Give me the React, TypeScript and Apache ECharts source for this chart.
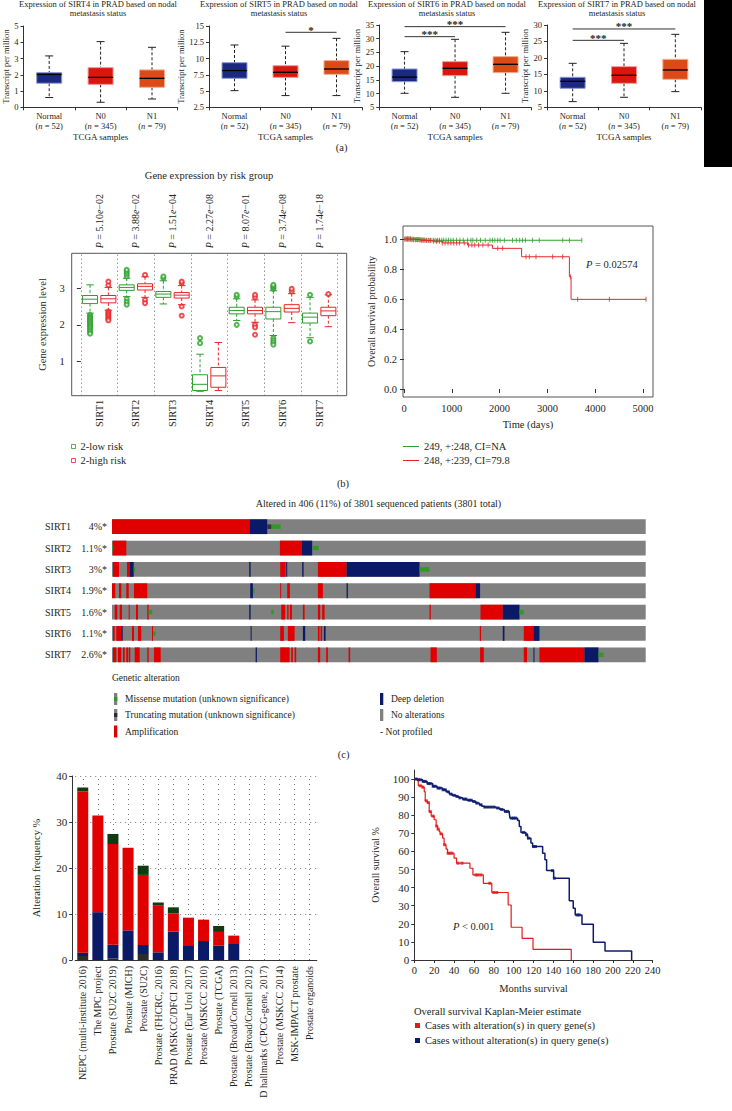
import React, { useEffect, useRef } from "react";
import * as echarts from "echarts";

const FONT = "'Liberation Serif', 'Times New Roman', serif";
const INK = "#231f20";

// ---------------- (a) nodal metastasis box plots ----------------
const aGroups = ["Normal", "N0", "N1"];
const aCounts = [52, 345, 79];
const aGenes = ["SIRT4", "SIRT5", "SIRT6", "SIRT7"];
const aYMin = [0, 2.5, 5, 5];
const aYMax = [5, 15, 35, 30];
const aYStep = [1, 2.5, 5, 5];
// [lower whisker, Q1, median, Q3, upper whisker]
const sirt4Box = [[0.6, 1.48, 2.02, 2.13, 3.16], [0.31, 1.41, 1.84, 2.44, 4.04], [0.51, 1.23, 1.78, 2.3, 3.69]];
const sirt5Box = [[5.06, 6.96, 8.15, 9.36, 12.08], [4.3, 7.1, 7.88, 8.9, 11.9], [4.3, 7.57, 8.39, 9.67, 13.1]];
const sirt6Box = [[10.1, 14.35, 16.0, 18.97, 25.28], [8.64, 16.54, 19.21, 21.64, 29.78], [10.1, 17.63, 20.67, 23.46, 32.33]];
const sirt7Box = [[6.72, 10.77, 12.9, 14.11, 18.36], [8.04, 12.29, 14.72, 17.35, 24.43], [9.76, 13.5, 16.34, 19.57, 27.17]];
// [from group, to group, bracket height, stars]
const sirt4Sig: any[] = [];
const sirt5Sig = [[1, 2, 14.03, "*"]];
const sirt6Sig = [[0, 1, 30.75, "***"], [0, 2, 34.4, "***"]];
const sirt7Sig = [[0, 1, 25.34, "***"], [0, 2, 28.79, "***"]];

// ---------------- (b) risk groups ----------------
const genes = ["SIRT1", "SIRT2", "SIRT3", "SIRT4", "SIRT5", "SIRT6", "SIRT7"];
const pValues = ["5.10e\u221202", "3.88e\u221202", "1.51e\u221204", "2.27e\u221208", "8.07e\u221201", "3.74e\u221208", "1.74e\u221218"];
const lowRiskBox = [
  [2.32, 2.58, 2.7, 2.8, 3.09], [2.77, 2.94, 3.02, 3.09, 3.27], [2.57, 2.75, 2.84, 2.91, 3.2],
  [0.19, 0.21, 0.38, 0.64, 1.2], [2.12, 2.3, 2.39, 2.48, 2.71], [1.71, 2.16, 2.36, 2.48, 2.93],
  [1.65, 2.05, 2.21, 2.32, 2.75],
];
const highRiskBox = [
  [2.4, 2.6, 2.71, 2.8, 3.02], [2.75, 2.95, 3.05, 3.12, 3.31], [2.55, 2.73, 2.81, 2.88, 3.07],
  [0.21, 0.3, 0.61, 0.84, 1.52], [2.07, 2.3, 2.39, 2.48, 2.68], [2.06, 2.35, 2.45, 2.55, 2.85],
  [1.95, 2.25, 2.38, 2.48, 2.82],
];
const lowRiskOutliers = [
  [2.27, 2.23, 2.19, 2.15, 2.11, 2.07, 2.03, 1.99, 1.95, 1.91, 1.86, 1.81, 1.76],
  [3.32, 3.39, 3.45, 3.5, 2.7, 2.62, 2.55],
  [3.27, 3.32],
  [1.5, 1.64],
  [2.77, 2.82, 2.0],
  [2.98, 3.02, 3.05, 3.09, 1.64, 1.58, 1.52, 1.46],
  [2.82, 1.55],
];
const highRiskOutliers = [
  [3.08, 3.18, 2.36, 2.32, 2.28, 2.24, 2.2, 2.16, 2.12],
  [3.36, 2.68, 2.59],
  [3.14, 3.18, 2.5, 2.25],
  [],
  [2.75, 2.82, 2.0, 1.93, 1.73],
  [2.91, 2.98],
  [2.84],
];
// Kaplan-Meier by risk group (days, survival)
const kmLowT = [0, 250, 450, 3720];
const kmLowS = [1.0, 0.997, 0.992, 0.992];
const kmHighT = [0, 150, 350, 600, 800, 1330, 1850, 2460, 3460, 3495, 5063];
const kmHighS = [1.0, 0.996, 0.99, 0.985, 0.974, 0.96, 0.938, 0.882, 0.749, 0.598, 0.598];
const kmLowCensor = [40, 70, 100, 130, 170, 210, 260, 300, 340, 380, 420, 470, 520, 560, 610, 650, 700, 740, 790, 830, 880, 930, 980, 1030, 1100, 1170, 1240, 1330, 1400, 1440, 1520, 1600, 1700, 1800, 1850, 1900, 1960, 2010, 2100, 2270, 2350, 2420, 2480, 2540, 2690, 2830, 3320, 3460, 3720];
const kmHighCensor = [15, 45, 75, 105, 135, 165, 200, 240, 280, 320, 360, 400, 440, 480, 520, 560, 620, 680, 740, 800, 860, 920, 980, 1040, 1100, 1160, 1260, 1350, 1420, 1480, 1560, 1650, 1760, 1960, 2064, 2552, 2622, 2761, 3110, 3319, 3480, 3633, 4296, 5063];

// ---------------- (c) oncoprint ----------------
const oncoGenes = ["SIRT1", "SIRT2", "SIRT3", "SIRT4", "SIRT5", "SIRT6", "SIRT7"];
const oncoPct = ["4%*", "1.1%*", "3%*", "1.9%*", "1.6%*", "1.1%*", "2.6%*"];
const oncoColumns = 534;
// [row, first column, last column]
const ampSegs = [
  [0, 0, 137.7],
  [1, 0.7, 14.3], [1, 168, 190],
  [2, 1, 7], [2, 15, 17.7], [2, 168.3, 173.7], [2, 206, 234.7],
  [3, 0, 3.3], [3, 7, 9.3], [3, 14.3, 16.7], [3, 22, 35.3], [3, 168.3, 169.3], [3, 175.3, 178], [3, 206, 211], [3, 317.7, 363.7],
  [4, 2.7, 5.3], [4, 7.7, 10], [4, 16.7, 17.7], [4, 24, 26], [4, 35.3, 36.7], [4, 169.3, 173.3], [4, 175.3, 176.7], [4, 178, 180], [4, 191, 192.7], [4, 206, 208.3], [4, 210.3, 212.7], [4, 317.7, 319], [4, 368.7, 391],
  [5, 1, 2.7], [5, 4.3, 9.3], [5, 20, 22], [5, 26, 29.3], [5, 40, 41], [5, 168.3, 172], [5, 176, 182.7], [5, 206, 207.7], [5, 208.7, 210.3], [5, 368, 369.3], [5, 412, 421.7],
  [6, 1, 4.3], [6, 6, 9.3], [6, 11, 12.7], [6, 14.3, 16], [6, 16.7, 18.3], [6, 22.7, 27.7], [6, 35.3, 36.7], [6, 42, 48.7], [6, 168.3, 177.7], [6, 179.3, 181], [6, 182.7, 184.3], [6, 206, 208.3], [6, 214.3, 216], [6, 236.7, 238.3], [6, 318.7, 325], [6, 368.3, 372], [6, 412, 415.3], [6, 427.7, 472.7],
];
const delSegs = [
  [0, 137.7, 155.3],
  [1, 190, 200.3],
  [2, 17.7, 21.7], [2, 137.3, 138.7], [2, 174.3, 175.3], [2, 190.3, 191.7], [2, 234.7, 307.7],
  [3, 138.3, 141], [3, 234.7, 236], [3, 363.7, 368.3],
  [4, 137.3, 138.7], [4, 391, 407.7],
  [5, 9.3, 10.7], [5, 138.7, 139.7], [5, 191, 193.3], [5, 212, 213.7], [5, 391, 392.7], [5, 421.7, 427.7],
  [6, 143.7, 145], [6, 421.7, 422.7], [6, 472.7, 486.7],
];
const missenseSegs = [
  [0, 159.3, 168.7], [1, 0, 1.3], [1, 201, 206.7], [2, 21.7, 23.3], [2, 307.7, 317.7], [3, 141, 142.7],
  [4, 36.7, 40.3], [4, 159.3, 161.7], [4, 407.7, 412], [5, 41, 43.7], [6, 486.7, 492],
];
const truncSegs = [[0, 155.3, 159.3]];

// ---------------- (d) alteration frequency & survival ----------------
const studies = [
  "NEPC (multi-institute 2016)", "The MPC project", "Prostate (SU2C 2019)", "Prostate (MICH)",
  "Prostate (SU2C)", "Prostate (FHCRC, 2016)", "PRAD (MSKCC/DFCI 2018)", "Prostate (Eur Urol 2017)",
  "Prostate (MSKCC 2010)", "Prostate (TCGA)", "Prostate (Broad/Cornell 2013)", "Prostate (Broad/Cornell 2012)",
  "D hallmarks (CPCG-gene, 2017)", "Prostate (MSKCC 2014)", "MSK-IMPACT prostate", "Prostate organoids",
];
const truncPct = [0.87, 0, 0.36, 0, 1.3, 0, 0, 0, 0, 0, 0, 0, 0, 0, 0, 0];
const deletionPct = [0.73, 10.4, 2.94, 6.45, 1.96, 1.67, 6.16, 3.04, 4.13, 3.1, 3.48, 0, 0, 0, 0, 0];
const amplificationPct = [35.1, 21.0, 21.9, 17.95, 15.24, 10.13, 3.94, 6.16, 4.64, 3.0, 1.82, 0, 0, 0, 0, 0];
const multiplePct = [0.8, 0, 2.2, 0, 2.0, 0.7, 1.35, 0, 0, 1.3, 0, 0, 0, 0, 0, 0];

const altT = [0, 4, 8, 10, 11, 13, 15, 17, 20, 22, 23.5, 25, 26, 28.5, 30, 32, 33.5, 40, 42.5, 56, 59, 69.5, 78, 94.5, 97.5, 108.5, 119.5, 158];
const altS = [100, 96.3, 95.5, 93, 88, 87, 82, 79.5, 77.5, 74, 72.3, 71, 69.7, 67.3, 63.7, 61.3, 59, 56.3, 53.5, 50.7, 47, 42.4, 37.3, 30.4, 18.1, 12, 5.9, 0];
const unaltT = [0, 3, 8.4, 13, 18.5, 23, 28.5, 32, 35.2, 38, 41.9, 45, 48.7, 53, 58.7, 62, 65.4, 68, 70.5, 82.2, 86, 90.6, 95.6, 96.3, 104, 105.7, 107.4, 112.4, 114.1, 117.4, 119.1, 129.2, 131.5, 133.2, 140.3, 156, 160, 162, 168.8, 180.2, 192, 218.8];
const unaltS = [100, 99.6, 98.7, 97.5, 96, 95, 94.1, 93, 91.7, 91, 90.4, 89.6, 88.9, 88.3, 87.6, 86.7, 85.8, 85, 84.5, 84, 83.2, 82.1, 81.2, 78.4, 77.1, 73.8, 70.5, 69.2, 67.3, 64.6, 62.7, 59, 55.4, 49.4, 45.2, 32.8, 28.6, 24.9, 19.7, 9.8, 5.0, 0];
const altCensor = [6, 8.5, 12, 14, 16, 19, 22.5, 24, 27, 30.5, 34, 36, 38, 44, 48, 62, 64, 67, 76, 80, 83];
const unaltCensor = [2, 4, 6, 9, 11, 14, 16, 19, 21, 24, 26, 29, 31, 34, 37, 40, 43, 46, 50, 52, 55, 57, 60, 63, 67, 71, 74, 77, 80, 84, 88, 92, 94, 98, 100, 102, 110, 113, 115, 120, 122, 139, 141, 164, 166];

const survAt = (T: number[], S: number[], t: number) => {
  let s = S[0];
  for (let i = 0; i < T.length; i++) if (T[i] <= t) s = S[i];
  return s;
};

const tstyle = (size: number, extra: any = {}) => ({ fontSize: size, fontFamily: FONT, color: INK, ...extra });

const gText = (x: number, y: number, text: string, size: number, align = "left", rich?: any, extra: any = {}) => ({
  type: "text",
  x,
  y,
  silent: true,
  style: {
    text,
    fontSize: size,
    fontFamily: FONT,
    fill: INK,
    align,
    textAlign: align,
    verticalAlign: "middle",
    textVerticalAlign: "middle",
    rich,
    ...extra,
  },
});

const italicRich = (size: number) => ({ i: { fontStyle: "italic", fontSize: size, fontFamily: FONT, color: INK, fill: INK } });

function buildOption() {
  const aFill = ["#1b2a80", "#d9160f", "#db4a17"];
  const aStroke = ["#8e9ad8", "#f39a92", "#f3ad8c"];
  const aBoxes = [sirt4Box, sirt5Box, sirt6Box, sirt7Box];
  const aSigs = [sirt4Sig, sirt5Sig, sirt6Sig, sirt7Sig];
  const aGrid = [
    { left: 22.7, top: 26, width: 155, height: 81.3 },
    { left: 209, top: 26, width: 153, height: 81.3 },
    { left: 379.3, top: 25, width: 151.5, height: 82.3 },
    { left: 547, top: 25, width: 154, height: 82.3 },
  ];
  const aNameGap = [13.5, 16.5, 17, 14.5];

  const aBoxRender = (params: any, api: any) => {
    const i = api.value(0);
    const lo = api.coord([i, api.value(1)]);
    const q1 = api.coord([i, api.value(2)]);
    const md = api.coord([i, api.value(3)]);
    const q3 = api.coord([i, api.value(4)]);
    const hi = api.coord([i, api.value(5)]);
    const cx = lo[0];
    const w = 25;
    const cap = 8;
    const k = params.dataIndex;
    const ws = { stroke: "#222", lineWidth: 1, lineDash: [3, 2] };
    return {
      type: "group",
      children: [
        { type: "line", shape: { x1: cx, y1: hi[1], x2: cx, y2: q3[1] }, style: ws },
        { type: "line", shape: { x1: cx, y1: q1[1], x2: cx, y2: lo[1] }, style: ws },
        { type: "line", shape: { x1: cx - cap / 2, y1: hi[1], x2: cx + cap / 2, y2: hi[1] }, style: { stroke: "#222", lineWidth: 1 } },
        { type: "line", shape: { x1: cx - cap / 2, y1: lo[1], x2: cx + cap / 2, y2: lo[1] }, style: { stroke: "#222", lineWidth: 1 } },
        { type: "rect", shape: { x: cx - w / 2, y: q3[1], width: w, height: q1[1] - q3[1] }, style: { fill: aFill[k], stroke: aStroke[k], lineWidth: 1 } },
        { type: "line", shape: { x1: cx - w / 2, y1: md[1], x2: cx + w / 2, y2: md[1] }, style: { stroke: "#000", lineWidth: 1.3 } },
      ],
    };
  };

  const sigRender = (sig: any[]) => (params: any, api: any) => {
    const p1 = api.coord([api.value(0), api.value(2)]);
    const p2 = api.coord([api.value(1), api.value(2)]);
    return {
      type: "group",
      children: [
        { type: "line", shape: { x1: p1[0], y1: p1[1], x2: p2[0], y2: p2[1] }, style: { stroke: "#333", lineWidth: 1 } },
        {
          type: "text",
          x: (p1[0] + p2[0]) / 2,
          y: p1[1] + 3,
          style: { text: sig[params.dataIndex][3], fontSize: 11, fontWeight: "bold", fontFamily: FONT, fill: INK, align: "center", textAlign: "center", verticalAlign: "bottom", textVerticalAlign: "bottom" },
        },
      ],
    };
  };

  const riskBoxRender = (color: string) => (params: any, api: any) => {
    const x = api.value(0);
    const c = (v: number) => api.coord([x, v]);
    const lo = c(api.value(1));
    const q1 = c(api.value(2));
    const md = c(api.value(3));
    const q3 = c(api.value(4));
    const hi = c(api.value(5));
    const cx = lo[0];
    const w = 15;
    const cap = 7.5;
    const ls = { stroke: color, lineWidth: 1 };
    return {
      type: "group",
      children: [
        { type: "line", shape: { x1: cx, y1: hi[1], x2: cx, y2: q3[1] }, style: { ...ls, lineDash: [3, 2] } },
        { type: "line", shape: { x1: cx, y1: q1[1], x2: cx, y2: lo[1] }, style: { ...ls, lineDash: [3, 2] } },
        { type: "line", shape: { x1: cx - cap / 2, y1: hi[1], x2: cx + cap / 2, y2: hi[1] }, style: ls },
        { type: "line", shape: { x1: cx - cap / 2, y1: lo[1], x2: cx + cap / 2, y2: lo[1] }, style: ls },
        { type: "rect", shape: { x: cx - w / 2, y: q3[1], width: w, height: q1[1] - q3[1] }, style: { fill: "#fff", stroke: color, lineWidth: 1 } },
        { type: "line", shape: { x1: cx - w / 2, y1: md[1], x2: cx + w / 2, y2: md[1] }, style: ls },
      ],
    };
  };

  const oncoRender = (color: string, h: number) => (params: any, api: any) => {
    const s = api.coord([api.value(0), api.value(1)]);
    const e = api.coord([api.value(2), api.value(1)]);
    return {
      type: "rect",
      shape: { x: s[0], y: s[1] - h / 2, width: Math.max(e[0] - s[0], 1), height: h },
      style: { fill: color },
    };
  };

  const GREEN = "#2ca02c";
  const RED = "#e8262a";
  const ONCO_RED = "#e00000";
  const NAVY = "#0b1a66";
  const GRAY = "#808080";
  const MIS_GREEN = "#2f9a22";

  const grid: any[] = [
    ...aGrid,
    { left: 71.7, top: 253.3, width: 275, height: 142.4, show: true, borderColor: "#555", borderWidth: 1 },
    { left: 403, top: 226, width: 250, height: 171, show: true, borderColor: "#555", borderWidth: 1 },
    { left: 112, top: 516, width: 533.7, height: 149.5 },
    { left: 75.2, top: 776, width: 241.6, height: 184 },
    { left: 414.3, top: 770, width: 238.4, height: 190 },
  ];

  const xAxis: any[] = [];
  const yAxis: any[] = [];
  for (let i = 0; i < 4; i++) {
    xAxis.push({
      type: "category",
      gridIndex: i,
      data: aGroups,
      boundaryGap: true,
      axisLine: { lineStyle: { color: "#333", width: 1 } },
      axisTick: { show: true, length: 3, lineStyle: { color: "#333" } },
      axisLabel: {
        interval: 0,
        margin: 4,
        lineHeight: 10,
        ...tstyle(8.5),
        formatter: (v: string, idx: number) => `${v}\n({i|n} = ${aCounts[idx]})`,
        rich: { i: { fontStyle: "italic", fontSize: 8.5, fontFamily: FONT, color: INK, lineHeight: 10 } },
      },
      name: "TCGA samples",
      nameLocation: "middle",
      nameGap: 25,
      nameTextStyle: tstyle(9),
    });
    yAxis.push({
      type: "value",
      gridIndex: i,
      min: aYMin[i],
      max: aYMax[i],
      interval: aYStep[i],
      axisLine: { show: true, lineStyle: { color: "#333", width: 1 } },
      axisTick: { show: true, length: 3, lineStyle: { color: "#333" } },
      splitLine: { show: false },
      axisLabel: { margin: 5, ...tstyle(8.5) },
      name: "Transcript per million",
      nameLocation: "middle",
      nameRotate: 90,
      nameGap: aNameGap[i],
      nameTextStyle: tstyle(8.5),
    });
  }
  // xAxis 4,5 / yAxis 4 : (b) left
  xAxis.push({
    type: "value", gridIndex: 4, min: -0.25, max: 7.25,
    axisLine: { show: false }, axisTick: { show: false }, splitLine: { show: false },
    axisLabel: {
      customValues: genes.map((_, i) => i + 0.5),
      rotate: 90, margin: 4, ...tstyle(10.5),
      formatter: (v: number) => genes[Math.round(v - 0.5)] ?? "",
    },
  });
  xAxis.push({
    type: "value", gridIndex: 4, min: -0.25, max: 7.25, position: "top",
    axisLine: { show: false }, axisTick: { show: false }, splitLine: { show: false },
    axisLabel: {
      customValues: genes.map((_, i) => i + 0.5),
      rotate: -90, margin: 5, ...tstyle(10),
      formatter: (v: number) => {
        const p = pValues[Math.round(v - 0.5)] ?? "";
        const [m, e] = p.split("e");
        return `{i|P} = ${m}{i|e}${e}`;
      },
      rich: italicRich(10),
    },
  });
  yAxis.push({
    type: "value", gridIndex: 4, min: 0.07, max: 3.95,
    axisLine: { show: false }, splitLine: { show: false },
    axisTick: { show: true, length: 4, customValues: [1, 2, 3], lineStyle: { color: "#333" } },
    axisLabel: { customValues: [1, 2, 3], margin: 7, ...tstyle(10.5) },
    name: "Gene expression level", nameLocation: "middle", nameRotate: 90, nameGap: 24, nameTextStyle: tstyle(10.5),
  });
  // xAxis 6 / yAxis 5 : (b) right KM
  xAxis.push({
    type: "value", gridIndex: 5, min: -21, max: 5209,
    axisLine: { show: false }, splitLine: { show: false },
    axisTick: { show: true, length: 4, customValues: [0, 1000, 2000, 3000, 4000, 5000], lineStyle: { color: "#333" } },
    axisLabel: { customValues: [0, 1000, 2000, 3000, 4000, 5000], margin: 6, ...tstyle(10.5), formatter: (v: number) => String(v) },
    name: "Time (days)", nameLocation: "middle", nameGap: 22, nameTextStyle: tstyle(10.5),
  });
  yAxis.push({
    type: "value", gridIndex: 5, min: -0.053, max: 1.087,
    axisLine: { show: false }, splitLine: { show: false },
    axisTick: { show: true, length: 4, customValues: [0, 0.2, 0.4, 0.6, 0.8, 1.0], lineStyle: { color: "#333" } },
    axisLabel: { customValues: [0, 0.2, 0.4, 0.6, 0.8, 1.0], margin: 6, ...tstyle(10.5), formatter: (v: number) => v.toFixed(1) },
    name: "Overall survival probability", nameLocation: "middle", nameRotate: 90, nameGap: 27, nameTextStyle: tstyle(10),
  });
  // xAxis 7 / yAxis 6 : (c) oncoprint
  xAxis.push({ type: "value", gridIndex: 6, min: 0, max: oncoColumns, show: false });
  yAxis.push({
    type: "category", gridIndex: 6, data: oncoGenes, inverse: true,
    axisLine: { show: false }, axisTick: { show: false },
    axisLabel: {
      margin: 5, ...tstyle(10),
      formatter: (v: string, idx: number) => `{g|${v}}{p|${oncoPct[idx]}}`,
      rich: {
        g: { width: 30, align: "left", fontSize: 10, fontFamily: FONT, color: INK },
        p: { width: 32, align: "right", fontSize: 10, fontFamily: FONT, color: INK },
      },
    },
  });
  // xAxis 8 / yAxis 7 : (d) bars
  xAxis.push({
    type: "category", gridIndex: 7, data: studies,
    axisLine: { lineStyle: { color: "#333" } },
    axisTick: { alignWithLabel: true, length: 3, lineStyle: { color: "#333" } },
    axisLabel: { interval: 0, rotate: 90, margin: 6, ...tstyle(10) },
  });
  yAxis.push({
    type: "value", gridIndex: 7, min: 0, max: 40, interval: 10, offset: 3,
    axisLine: { show: true, lineStyle: { color: "#333" } },
    axisTick: { show: true, length: 3, lineStyle: { color: "#333" } },
    splitLine: { show: true, lineStyle: { color: "#777", type: [1, 4], width: 1 } },
    axisLabel: { margin: 5, ...tstyle(11) },
    name: "Alteration frequency %", nameLocation: "middle", nameRotate: 90, nameGap: 30, nameTextStyle: tstyle(10.5),
  });
  // xAxis 9 / yAxis 8 : (d) KM
  xAxis.push({
    type: "value", gridIndex: 8, min: 0, max: 240, interval: 20,
    axisLine: { show: true, lineStyle: { color: "#333" } },
    axisTick: { show: true, length: 3, lineStyle: { color: "#333" } },
    splitLine: { show: false },
    axisLabel: { margin: 5, ...tstyle(10.5) },
    name: "Months survival", nameLocation: "middle", nameGap: 23, nameTextStyle: tstyle(10.5),
  });
  const yTicksD = [0, 10, 20, 30, 40, 50, 60, 70, 80, 90, 100];
  yAxis.push({
    type: "value", gridIndex: 8, min: 0, max: 105,
    axisLine: { show: true, lineStyle: { color: "#333" } },
    axisTick: { show: true, length: 3, customValues: yTicksD, lineStyle: { color: "#333" } },
    splitLine: { show: false },
    axisLabel: { customValues: yTicksD, margin: 5, ...tstyle(11) },
    name: "Overall survival %", nameLocation: "middle", nameRotate: 90, nameGap: 34, nameTextStyle: tstyle(10),
  });

  const series: any[] = [];
  for (let i = 0; i < 4; i++) {
    series.push({
      type: "custom", xAxisIndex: i, yAxisIndex: i, silent: true,
      renderItem: aBoxRender,
      encode: { x: 0, y: [1, 2, 3, 4, 5] },
      data: aBoxes[i].map((b, k) => [k, ...b]),
    });
    if (aSigs[i].length) {
      series.push({
        type: "custom", xAxisIndex: i, yAxisIndex: i, silent: true,
        renderItem: sigRender(aSigs[i]),
        encode: { x: [0, 1], y: 2 },
        data: aSigs[i].map((s: any[]) => [s[0], s[1], s[2]]),
      });
    }
  }
  // (b) boxes
  series.push({
    type: "custom", xAxisIndex: 4, yAxisIndex: 4, silent: true, z: 3,
    renderItem: riskBoxRender(GREEN), encode: { x: 0, y: [1, 2, 3, 4, 5] },
    data: lowRiskBox.map((b, g) => [g + 0.25, ...b]),
  });
  series.push({
    type: "custom", xAxisIndex: 4, yAxisIndex: 4, silent: true, z: 3,
    renderItem: riskBoxRender(RED), encode: { x: 0, y: [1, 2, 3, 4, 5] },
    data: highRiskBox.map((b, g) => [g + 0.75, ...b]),
  });
  series.push({
    name: "2-low risk", type: "scatter", xAxisIndex: 4, yAxisIndex: 4, silent: true, z: 4,
    symbol: "emptyCircle", symbolSize: 4, itemStyle: { color: GREEN, borderWidth: 1 },
    data: lowRiskOutliers.flatMap((arr, g) => arr.map((v) => [g + 0.25, v])),
    markLine: {
      silent: true, symbol: ["none", "none"], label: { show: false }, z: 1, animation: false,
      lineStyle: { color: "#666", type: [1, 3], width: 1 },
      data: genes.map((_, g) => ({ xAxis: g })).concat([{ xAxis: genes.length }]),
    },
  });
  series.push({
    name: "2-high risk", type: "scatter", xAxisIndex: 4, yAxisIndex: 4, silent: true, z: 4,
    symbol: "emptyCircle", symbolSize: 4, itemStyle: { color: RED, borderWidth: 1 },
    data: highRiskOutliers.flatMap((arr, g) => arr.map((v) => [g + 0.75, v])),
  });
  // (b) KM
  series.push({
    name: "249, +:248, CI=NA", type: "line", xAxisIndex: 6, yAxisIndex: 5, step: "end", symbol: "none", silent: true,
    lineStyle: { color: GREEN, width: 1 }, itemStyle: { color: GREEN },
    data: kmLowT.map((t, i) => [t, kmLowS[i]]),
  });
  series.push({
    name: "248, +:239, CI=79.8", type: "line", xAxisIndex: 6, yAxisIndex: 5, step: "end", symbol: "none", silent: true,
    lineStyle: { color: RED, width: 1 }, itemStyle: { color: RED },
    data: kmHighT.map((t, i) => [t, kmHighS[i]]),
  });
  series.push({
    type: "scatter", xAxisIndex: 6, yAxisIndex: 5, silent: true, symbol: "rect", symbolSize: [1, 5],
    itemStyle: { color: GREEN }, data: kmLowCensor.map((t) => [t, survAt(kmLowT, kmLowS, t)]),
  });
  series.push({
    type: "scatter", xAxisIndex: 6, yAxisIndex: 5, silent: true, symbol: "rect", symbolSize: [1, 5],
    itemStyle: { color: RED }, data: kmHighCensor.map((t) => [t, survAt(kmHighT, kmHighS, t)]),
  });
  // (c) oncoprint
  const onco = (segs: number[][], color: string, h: number, z: number) => ({
    type: "custom", xAxisIndex: 7, yAxisIndex: 6, silent: true, z,
    renderItem: oncoRender(color, h), encode: { x: [0, 2], y: 1 },
    data: segs.map((s) => [s[1], s[0], s[2]]),
  });
  series.push(onco(oncoGenes.map((_, r) => [r, 0, oncoColumns]), GRAY, 14.8, 1));
  series.push(onco(ampSegs, ONCO_RED, 14.8, 2));
  series.push(onco(delSegs, NAVY, 14.8, 2));
  series.push(onco(missenseSegs, MIS_GREEN, 4.5, 3));
  series.push(onco(truncSegs, "#333", 4.5, 3));
  // (d) bars
  const barLayers = [
    { name: "Truncating", data: truncPct, color: "#2b2b2b" },
    { name: "Deep deletion", data: deletionPct, color: NAVY },
    { name: "Amplification", data: amplificationPct, color: ONCO_RED },
    { name: "Multiple alterations", data: multiplePct, color: "#0f3a12" },
  ];
  barLayers.forEach((l, li) => {
    const s: any = {
      name: l.name, type: "bar", stack: "freq", xAxisIndex: 8, yAxisIndex: 7, barWidth: 11, silent: true, z: 3,
      itemStyle: { color: l.color }, data: l.data,
    };
    if (li === 0) {
      s.markLine = {
        silent: true, symbol: ["none", "none"], label: { show: false }, z: 1, animation: false,
        lineStyle: { color: "#777", type: [1, 4], width: 1 },
        data: studies.map((st) => ({ xAxis: st })),
      };
    }
    series.push(s);
  });
  // (d) KM
  const KRED = "#e31a1c";
  const KBLUE = "#0d1b6e";
  series.push({
    name: "Cases with alteration(s) in query gene(s)", type: "line", xAxisIndex: 9, yAxisIndex: 8, step: "end",
    symbol: "none", silent: true, lineStyle: { color: KRED, width: 1.2 }, itemStyle: { color: KRED },
    data: altT.map((t, i) => [t, altS[i]]),
  });
  series.push({
    name: "Cases without alteration(s) in query gene(s)", type: "line", xAxisIndex: 9, yAxisIndex: 8, step: "end",
    symbol: "none", silent: true, lineStyle: { color: KBLUE, width: 1.5 }, itemStyle: { color: KBLUE },
    data: unaltT.map((t, i) => [t, unaltS[i]]),
  });
  series.push({
    type: "scatter", xAxisIndex: 9, yAxisIndex: 8, silent: true, symbol: "rect", symbolSize: 3,
    itemStyle: { color: KRED }, data: altCensor.map((t) => [t, survAt(altT, altS, t)]),
  });
  series.push({
    type: "scatter", xAxisIndex: 9, yAxisIndex: 8, silent: true, symbol: "rect", symbolSize: 3,
    itemStyle: { color: KBLUE }, data: unaltCensor.map((t) => [t, survAt(unaltT, unaltS, t)]),
  });

  const legend = [
    {
      orient: "vertical", left: 71, top: 441, padding: 0, itemGap: 3, itemWidth: 4, itemHeight: 4, selectedMode: false,
      textStyle: tstyle(10.5),
      data: [
        { name: "2-low risk", icon: "rect", itemStyle: { color: "#fff", borderColor: GREEN, borderWidth: 1 } },
        { name: "2-high risk", icon: "rect", itemStyle: { color: "#fff", borderColor: RED, borderWidth: 1 } },
      ],
    },
    {
      orient: "vertical", left: 403, top: 441, padding: 0, itemGap: 3, itemWidth: 16, itemHeight: 1, selectedMode: false,
      textStyle: tstyle(10.5),
      data: [{ name: "249, +:248, CI=NA", icon: "rect" }, { name: "248, +:239, CI=79.8", icon: "rect" }],
    },
    {
      orient: "vertical", left: 415, top: 1020, padding: 0, itemGap: 4, itemWidth: 5, itemHeight: 5, selectedMode: false,
      textStyle: tstyle(10.5),
      data: [
        { name: "Cases with alteration(s) in query gene(s)", icon: "rect" },
        { name: "Cases without alteration(s) in query gene(s)", icon: "rect" },
      ],
    },
  ];

  const aTitleX = [98, 279, 447, 617];
  const graphic: any[] = [];
  aGenes.forEach((g, i) => {
    graphic.push(gText(aTitleX[i], 4.4, `Expression of ${g} in PRAD based on nodal`, 8.5, "center"));
    graphic.push(gText(aTitleX[i], 13, "metastasis status", 8.5, "center"));
  });
  graphic.push(
    gText(341.7, 147, "(a)", 10.5, "center"),
    gText(343, 483.3, "(b)", 10.5, "center"),
    gText(343.7, 754, "(c)", 10.5, "center"),
    gText(209, 175, "Gene expression by risk group", 10.5, "center"),
    gText(586, 264, "{i|P} = 0.02574", 10.5, "left", italicRich(10.5)),
    gText(378.5, 503, "Altered in 406 (11%) of 3801 sequenced patients (3801 total)", 10, "center"),
    gText(112, 678.3, "Genetic alteration", 9.5, "left"),
    { type: "rect", silent: true, shape: { x: 114, y: 693, width: 3.3, height: 12 }, style: { fill: GRAY } },
    { type: "rect", silent: true, shape: { x: 114, y: 697, width: 3.3, height: 4 }, style: { fill: MIS_GREEN } },
    gText(125, 699, "Missense mutation (unknown significance)", 9.5),
    { type: "rect", silent: true, shape: { x: 114, y: 709, width: 3.3, height: 12 }, style: { fill: GRAY } },
    { type: "rect", silent: true, shape: { x: 114, y: 713, width: 3.3, height: 4 }, style: { fill: "#2b2b3b" } },
    gText(125, 715.3, "Truncating mutation (unknown significance)", 9.5),
    { type: "rect", silent: true, shape: { x: 114, y: 725.5, width: 3.3, height: 12 }, style: { fill: ONCO_RED } },
    gText(125, 731.7, "Amplification", 9.5),
    { type: "rect", silent: true, shape: { x: 380, y: 693, width: 3.3, height: 12 }, style: { fill: NAVY } },
    gText(391, 698.7, "Deep deletion", 9.5),
    { type: "rect", silent: true, shape: { x: 380, y: 709, width: 3.3, height: 12 }, style: { fill: GRAY } },
    gText(391, 715.3, "No alterations", 9.5),
    gText(380, 731.7, "- Not profiled", 9.5),
    gText(414, 1011, "Overall survival Kaplan-Meier estimate", 10.5),
    gText(453, 926, "{i|P} < 0.001", 10.5, "left", italicRich(10.5)),
    { type: "rect", silent: true, shape: { x: 704, y: 0, width: 28, height: 167 }, style: { fill: "#000" } }
  );

  return {
    animation: false,
    backgroundColor: "#fff",
    textStyle: { fontFamily: FONT, color: INK },
    grid,
    xAxis,
    yAxis,
    legend,
    series,
    graphic,
  };
}

export default function App() {
  const ref = useRef<HTMLDivElement>(null);
  useEffect(() => {
    const chart = echarts.init(ref.current!, null, { renderer: "svg" });
    chart.setOption(buildOption() as any);
    return () => chart.dispose();
  }, []);
  return (
    <div
      ref={ref}
      style={{ position: "absolute", left: 0, top: 0, width: 732, height: 1111, background: "#fff" }}
    />
  );
}
